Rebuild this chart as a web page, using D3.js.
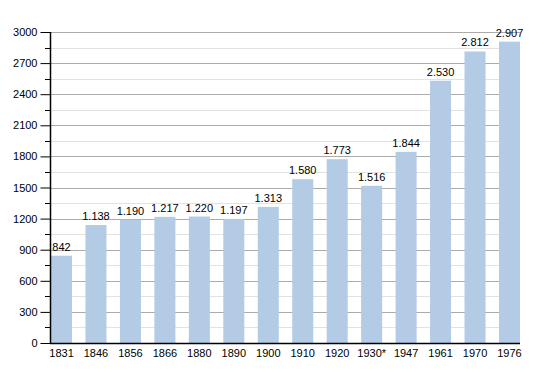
<!DOCTYPE html>
<html>
<head>
<meta charset="utf-8">
<script src="https://cdn.jsdelivr.net/npm/d3@7"></script>
<style>
  body { margin: 0; background: #fff; }
  svg { display: block; font-family: "Liberation Sans", Arial, sans-serif; }
</style>
</head>
<body>
<div id="chart"></div>
<script>
var years  = ["1831","1846","1856","1866","1880","1890","1900","1910","1920","1930*","1947","1961","1970","1976"];
var values = [842, 1138, 1190, 1217, 1220, 1197, 1313, 1580, 1773, 1516, 1844, 2530, 2812, 2907];
var yTicks = [0, 300, 600, 900, 1200, 1500, 1800, 2100, 2400, 2700, 3000];
var yMinorTicks = [150, 450, 750, 1050, 1350, 1650, 1950, 2250, 2550, 2850];

var width = 550, height = 373;
var plotLeft = 50, plotRight = 520, plotTop = 32, plotBottom = 343;

var svg = d3.select("#chart").append("svg").attr("width", width).attr("height", height);

var x = d3.scaleBand().domain(years).range([plotLeft + 1, plotRight]).paddingInner(0.39).paddingOuter(0);
var y = d3.scaleLinear().domain([0, 3000]).range([plotBottom, plotTop]);

var fmt = function(v) { return v >= 1000 ? d3.format(",")(v).replace(",", ".") : String(v); };
var py = function(d) { return Math.round(y(d)) + 0.5; };

// grid
svg.append("g").selectAll("line").data(yMinorTicks).join("line")
  .attr("x1", plotLeft).attr("x2", plotRight)
  .attr("y1", py).attr("y2", py)
  .attr("stroke", "#e2e2e2").attr("stroke-width", 1);
svg.append("g").selectAll("line").data(yTicks.slice(1)).join("line")
  .attr("x1", plotLeft).attr("x2", plotRight)
  .attr("y1", py).attr("y2", py)
  .attr("stroke", "#ababab").attr("stroke-width", 1);

// bars
svg.append("g").selectAll("rect").data(values).join("rect")
  .attr("x", function(d, i) { return x(years[i]); })
  .attr("y", function(d) { return y(d); })
  .attr("width", x.bandwidth())
  .attr("height", function(d) { return y(0) - y(d); })
  .attr("fill", "#b3cbe4");

// value labels
svg.append("g").selectAll("text").data(values).join("text")
  .attr("x", function(d, i) { return x(years[i]) + x.bandwidth() / 2; })
  .attr("y", function(d) { return y(d) - 5; })
  .attr("text-anchor", "middle")
  .attr("font-size", 11)
  .attr("fill", "#000")
  .text(fmt);

// y axis
var axisY = d3.axisLeft(y).tickValues(yTicks).tickSize(10).tickPadding(3).tickFormat(d3.format("d"));
var gy = svg.append("g").attr("transform", "translate(" + (plotLeft + 0.5) + ",0)").call(axisY);
gy.select(".domain").remove();
gy.selectAll("text").attr("font-size", 11).attr("font-family", "Liberation Sans, Arial, sans-serif").attr("fill", "#000");
gy.selectAll("line").attr("stroke", "#000");
svg.append("g").selectAll("line").data(yMinorTicks).join("line")
  .attr("x1", plotLeft - 5).attr("x2", plotLeft)
  .attr("y1", py).attr("y2", py)
  .attr("stroke", "#000");
svg.append("line").attr("x1", plotLeft + 0.5).attr("x2", plotLeft + 0.5).attr("y1", plotTop).attr("y2", plotBottom + 0.5)
  .attr("stroke", "#000").attr("stroke-width", 1.5);

// x axis
var axisX = d3.axisBottom(x).tickSize(0).tickPadding(6);
var gx = svg.append("g").attr("transform", "translate(0," + (plotBottom + 0.5) + ")").call(axisX);
gx.select(".domain").remove();
gx.selectAll("text").attr("font-size", 11).attr("font-family", "Liberation Sans, Arial, sans-serif").attr("fill", "#000");
svg.append("line").attr("x1", plotLeft).attr("x2", plotRight).attr("y1", plotBottom + 0.5).attr("y2", plotBottom + 0.5)
  .attr("stroke", "#000").attr("stroke-width", 1.5);
</script>
</body>
</html>
